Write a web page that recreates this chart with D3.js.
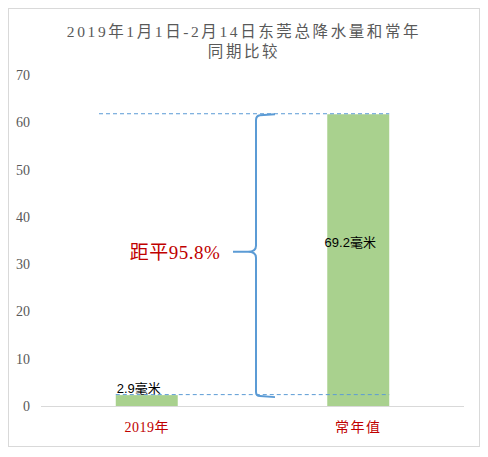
<!DOCTYPE html>
<html>
<head>
<meta charset="utf-8">
<script src="https://cdn.jsdelivr.net/npm/d3@7"></script>
<style>
  body { margin: 0; background: #fff; }
</style>
</head>
<body>
<div id="chart"></div>
<script>
// values
const categories = ["2019年", "常年值"];
const rainfall = [2.3, 61.7];          // bar heights as drawn
const barLabels = ["2.9毫米", "69.2毫米"];
const yTicks = [0, 10, 20, 30, 40, 50, 60, 70];
const titleLines = ["2019年1月1日-2月14日东莞总降水量和常年", "同期比较"];
const anomalyText = "距平95.8%";

const W = 488, H = 457;
const margin = { top: 75, right: 24, bottom: 51, left: 41 };

const svg = d3.select("#chart").append("svg")
  .attr("width", W).attr("height", H);

// chart frame
svg.append("rect")
  .attr("x", 8.5).attr("y", 8.5)
  .attr("width", 471).attr("height", 438)
  .attr("fill", "#fff").attr("stroke", "#d9d9d9");

const x = d3.scaleBand()
  .domain(categories)
  .range([margin.left, W - margin.right]);

const y = d3.scaleLinear()
  .domain([0, 70])
  .range([406, 75]);

const serif = "'Liberation Serif', 'DejaVu Serif', 'Noto Sans CJK SC', serif";

// title
svg.append("g").selectAll("text")
  .data(titleLines)
  .enter().append("text")
  .attr("x", 244)
  .attr("y", (d, i) => 37 + i * 20)
  .attr("text-anchor", "middle")
  .attr("fill", "#595959")
  .attr("font-family", serif)
  .attr("font-size", 15.5)
  .attr("letter-spacing", 2.6)
  .text(d => d);

// y axis labels only
const yAxis = svg.append("g")
  .attr("transform", `translate(${margin.left},0)`)
  .call(d3.axisLeft(y).tickValues(yTicks).tickSize(0).tickPadding(11));
yAxis.select(".domain").remove();
yAxis.selectAll("text")
  .attr("fill", "#595959")
  .attr("font-family", serif)
  .attr("font-size", 14);

// baseline
svg.append("line")
  .attr("x1", margin.left).attr("x2", W - margin.right)
  .attr("y1", y(0) + 0.5).attr("y2", y(0) + 0.5)
  .attr("stroke", "#d9d9d9");

// bars
const barW = x.bandwidth() * 0.293;
svg.append("g").selectAll("rect")
  .data(rainfall)
  .enter().append("rect")
  .attr("x", (d, i) => x(categories[i]) + (x.bandwidth() - barW) / 2)
  .attr("y", d => y(d))
  .attr("width", barW)
  .attr("height", d => y(0) - y(d))
  .attr("fill", "#a9d18e");

// x labels
const xAxis = svg.append("g")
  .attr("transform", `translate(0,${y(0)})`)
  .call(d3.axisBottom(x).tickSize(0).tickPadding(16));
xAxis.select(".domain").remove();
xAxis.selectAll("text")
  .attr("fill", "#c00000")
  .attr("font-family", serif)
  .attr("font-size", 14)
  .attr("letter-spacing", (d, i) => i === 1 ? 1.5 : 0.5);

// value labels
svg.append("g").selectAll("text")
  .data(barLabels)
  .enter().append("text")
  .attr("x", (d, i) => i === 0 ? x(categories[0]) + (x.bandwidth() - barW) / 2 + 1
                               : x(categories[1]) + x.bandwidth() / 2 - 8)
  .attr("y", (d, i) => i === 0 ? y(rainfall[0]) - 2 : y(35) + 6)
  .attr("text-anchor", (d, i) => i === 0 ? "start" : "middle")
  .attr("fill", "#000")
  .attr("font-family", "'Liberation Sans', Arial, 'Noto Sans CJK SC', sans-serif")
  .attr("font-size", 13)
  .text(d => d);

// dashed reference lines at both bar tops
const x2right = x(categories[1]) + (x.bandwidth() + barW) / 2;
svg.append("line")
  .attr("x1", 99).attr("x2", x2right)
  .attr("y1", y(rainfall[1]) - 0.5).attr("y2", y(rainfall[1]) - 0.5)
  .attr("stroke", "#5b9bd5").attr("stroke-dasharray", "4,3");
svg.append("line")
  .attr("x1", x(categories[0]) + (x.bandwidth() - barW) / 2).attr("x2", x2right)
  .attr("y1", y(rainfall[0]) - 0.5).attr("y2", y(rainfall[0]) - 0.5)
  .attr("stroke", "#5b9bd5").attr("stroke-dasharray", "4,3");

// brace between the two levels
const bx = 256, bTop = y(rainfall[1]), bBot = y(rainfall[0]);
const bMid = (bTop + bBot) / 2 - 3;
const brace = d3.path();
brace.moveTo(275, bTop);
brace.lineTo(bx + 4, bTop + 1);
brace.quadraticCurveTo(bx, bTop + 1.5, bx, bTop + 6);
brace.lineTo(bx, bMid - 6);
brace.quadraticCurveTo(bx, bMid, bx - 8, bMid);
brace.lineTo(bx - 23, bMid);
brace.moveTo(bx - 8, bMid);
brace.quadraticCurveTo(bx, bMid, bx, bMid + 6);
brace.lineTo(bx, bBot - 3);
brace.quadraticCurveTo(bx, bBot + 1, bx + 4, bBot + 1);
brace.lineTo(275, bBot + 2);
svg.append("path")
  .attr("d", brace.toString())
  .attr("fill", "none")
  .attr("stroke", "#5b9bd5")
  .attr("stroke-width", 2);

svg.append("text")
  .attr("x", 175).attr("y", bMid + 7)
  .attr("text-anchor", "middle")
  .attr("fill", "#c00000")
  .attr("font-family", serif)
  .attr("font-size", 19)
  .attr("letter-spacing", 0.5)
  .text(anomalyText);
</script>
</body>
</html>
